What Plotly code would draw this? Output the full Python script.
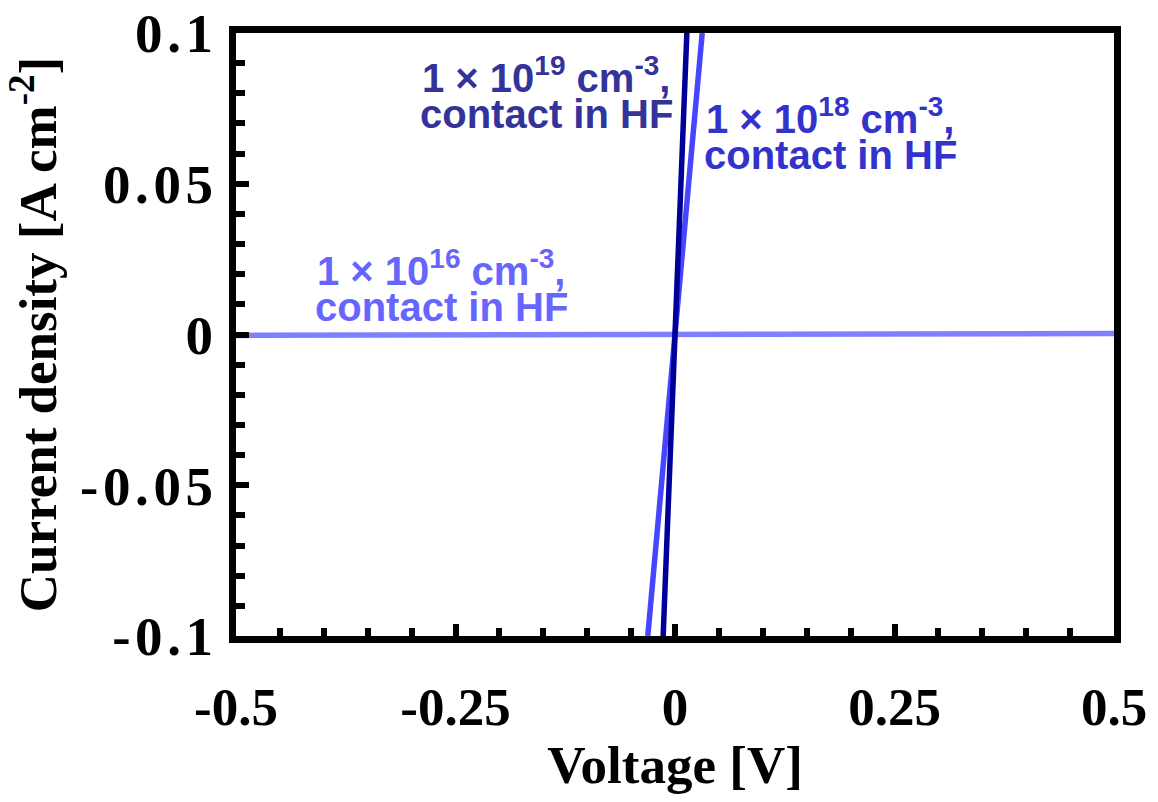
import plotly.graph_objects as go

# J-V curves for n-type Si contacts, measured after HF dip
voltage_1e19 = [-0.0135, 0.0, 0.0135]
current_1e19 = [-0.1, 0.0, 0.1]

voltage_1e18 = [-0.031, 0.0, 0.031]
current_1e18 = [-0.1, 0.0, 0.1]

voltage_1e16 = [-0.5, 0.0, 0.5]
current_1e16 = [-0.0003, 0.0, 0.0003]

HS = "\u200a"  # hair space used to open up the current-density tick labels
x_tickvals = [-0.5, -0.25, 0, 0.25, 0.5]
x_ticktext = ["-0.5", "-0.25", "0", "0.25", "0.5"]
y_tickvals = [-0.1, -0.05, 0, 0.05, 0.1]
y_ticktext = ["-0.1", "-0.05", "0", "0.05", "0.1"]

W, H = 1158, 802
L, R, T, B = 236, 44, 33, 166
PW, PH = W - L - R, H - T - B

SERIF = "Liberation Serif"
SANS = "Liberation Sans"

fig = go.Figure()
fig.add_trace(go.Scatter(x=voltage_1e16, y=current_1e16, mode="lines",
                         line=dict(color="#8080FF", width=5.5), showlegend=False))
fig.add_trace(go.Scatter(x=voltage_1e18, y=current_1e18, mode="lines",
                         line=dict(color="#4646FF", width=5.5), showlegend=False))
fig.add_trace(go.Scatter(x=voltage_1e19, y=current_1e19, mode="lines",
                         line=dict(color="#000099", width=5.5), showlegend=False))


def px(xp):
    return (xp - L) / PW


def py(yp):
    return (T + PH - yp) / PH


labels = [
    ("1 × 10<sup>19</sup> cm<sup>-3</sup>,", "contact in HF", 546, 75, 114, "#333399"),
    ("1 × 10<sup>18</sup> cm<sup>-3</sup>,", "contact in HF", 830, 116, 155, "#3333CC"),
    ("1 × 10<sup>16</sup> cm<sup>-3</sup>,", "contact in HF", 441, 268, 307, "#6666FF"),
]
for line1, line2, cx, y1, y2, col in labels:
    for txt, yy in ((line1, y1), (line2, y2)):
        fig.add_annotation(x=px(cx), y=py(yy), xref="paper", yref="paper",
                           text=txt, showarrow=False, xanchor="center", yanchor="middle",
                           font=dict(family=SANS, size=40, color=col, weight="bold"))

axis_common = dict(
    showline=True, linecolor="black", linewidth=7, mirror=True,
    showgrid=False, zeroline=False,
    ticks="inside", tickcolor="black", tickwidth=6,
)

fig.update_xaxes(
    range=[-0.5, 0.5], tickmode="array", tickvals=x_tickvals, ticktext=x_ticktext,
    ticklen=12, ticklabelstandoff=18,
    tickfont=dict(family=SERIF, size=53, color="black", weight="bold"),
    minor=dict(dtick=0.05, ticks="inside", ticklen=8, tickwidth=6, tickcolor="black"),
    title=dict(text="Voltage [V]", font=dict(family=SERIF, size=53, color="black", weight="bold"),
               standoff=12),
    **axis_common,
)
fig.update_yaxes(
    range=[-0.1, 0.1], tickmode="array", tickvals=y_tickvals,
    ticktext=[HS.join(t) for t in y_ticktext],
    ticklen=13, ticklabelstandoff=5,
    tickfont=dict(family=SERIF, size=55, color="black", weight="bold"),
    minor=dict(dtick=0.01, ticks="inside", ticklen=9, tickwidth=6, tickcolor="black"),
    title=dict(text="Current density [A cm<sup>-2</sup>]",
               font=dict(family=SERIF, size=53, color="black", weight="bold"), standoff=9),
    **axis_common,
)

fig.update_layout(
    width=W, height=H,
    margin=dict(l=L, r=R, t=T, b=B, autoexpand=False),
    paper_bgcolor="white", plot_bgcolor="white",
)

fig.write_html("out.html")
